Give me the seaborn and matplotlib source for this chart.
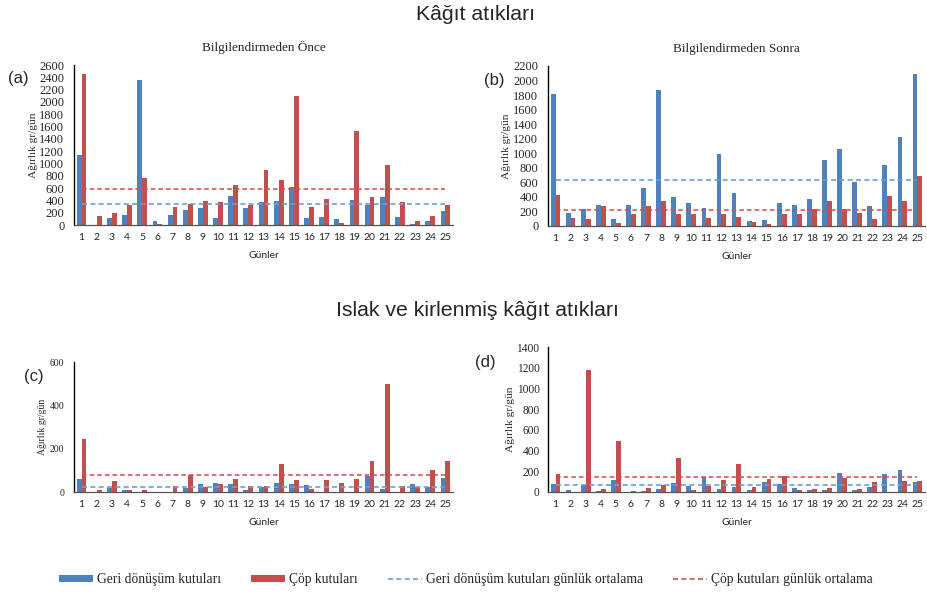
import numpy as np
import pandas as pd
import matplotlib.pyplot as plt
from matplotlib.patches import Patch
from matplotlib.lines import Line2D
import seaborn as sns

# ---- data (gr/gün) ----
gunler = [str(i) for i in range(1, 26)]
seri_adlari = ['Geri dönüşüm kutuları', 'Çöp kutuları']
ortalama_adlari = ['Geri dönüşüm kutuları günlük ortalama', 'Çöp kutuları günlük ortalama']

kagit_once_geri = [1130, 0, 120, 160, 2360, 70, 160, 240, 280, 120, 470, 270, 380,
                   390, 610, 120, 130, 90, 410, 320, 450, 130, 20, 60, 220]
kagit_once_cop = [2450, 140, 200, 320, 770, 20, 300, 340, 390, 370, 650, 330, 890,
                  730, 2090, 290, 430, 40, 1520, 460, 970, 380, 60, 140, 320]

kagit_sonra_geri = [1820, 180, 240, 290, 100, 290, 520, 1870, 400, 320, 250, 990, 450,
                    70, 80, 310, 290, 370, 910, 1060, 600, 270, 840, 1220, 2090]
kagit_sonra_cop = [430, 110, 90, 270, 40, 170, 270, 340, 170, 170, 110, 160, 130,
                   60, 30, 170, 170, 240, 350, 230, 180, 100, 410, 350, 690]

islak_once_geri = [60, 0, 20, 10, 0, 0, 0, 18, 38, 42, 38, 10, 25,
                   40, 38, 33, 0, 0, 0, 75, 15, 0, 35, 25, 65]
islak_once_cop = [245, 10, 50, 8, 10, 0, 30, 80, 25, 35, 58, 30, 30,
                  130, 55, 15, 55, 40, 62, 145, 500, 30, 25, 100, 145]

islak_sonra_geri = [75, 15, 70, 10, 120, 0, 10, 30, 85, 55, 145, 25, 50,
                    15, 100, 80, 35, 15, 15, 185, 15, 45, 170, 210, 100]
islak_sonra_cop = [175, 0, 1175, 30, 490, 10, 35, 70, 325, 20, 55, 120, 270,
                   45, 130, 155, 15, 25, 35, 135, 25, 95, 0, 105, 110]

mavi = '#4F81BD'
kirmizi = '#C0504D'
mavi_cizgi = '#6A9FDC'
kirmizi_cizgi = '#D9474C'

W, H = 928, 593
fig = plt.figure(figsize=(W / 100, H / 100), dpi=100)

serif = ['Liberation Serif', 'DejaVu Serif']
sans = ['Liberation Sans', 'DejaVu Sans']
xfont = ['Lato', 'DejaVu Sans']


def px_rect(l, t, r, b):
    return [l / W, 1 - b / H, (r - l) / W, (b - t) / H]


def panel(rect, geri, cop, ymax, harf, harf_xy, ylabel_x, yfs=9, ylfs=8.2,
          ypad=7, alt_baslik=None):
    ax = fig.add_axes(px_rect(*rect))
    df = pd.DataFrame({
        'Gün': gunler * 2,
        'Ağırlık': geri + cop,
        'Tür': [seri_adlari[0]] * len(gunler) + [seri_adlari[1]] * len(gunler),
    })
    sns.barplot(data=df, x='Gün', y='Ağırlık', hue='Tür', hue_order=seri_adlari,
                palette=[mavi, kirmizi], saturation=1, width=0.64, gap=0,
                linewidth=0, edgecolor='none', legend=False, ax=ax)
    pos = np.arange(len(gunler))
    ax.plot(pos, np.full(len(pos), np.mean(geri)), ls=(0, (3, 2)), color=mavi_cizgi, lw=1.2)
    ax.plot(pos, np.full(len(pos), np.mean(cop)), ls=(0, (3, 2)), color=kirmizi_cizgi, lw=1.1)

    ax.set_xlim(-0.5, len(gunler) - 0.5)
    ax.set_ylim(0, ymax)
    ax.set_yticks(np.arange(0, ymax + 1, 200))
    sns.despine(ax=ax)
    ax.spines['left'].set_color('black')
    ax.spines['left'].set_linewidth(1.0)
    ax.spines['bottom'].set_color('#555555')
    ax.spines['bottom'].set_linewidth(0.9)
    ax.tick_params(length=0)
    ax.tick_params(axis='x', pad=6)
    ax.tick_params(axis='y', pad=ypad)
    for t in ax.get_yticklabels():
        t.set_fontfamily(serif)
        t.set_fontsize(yfs)
    for t in ax.get_xticklabels():
        t.set_fontfamily(xfont)
        t.set_fontsize(7.5)
    ax.set_xlabel('Günler', fontfamily=xfont, fontsize=7.5, labelpad=6)
    ax.set_ylabel('Ağırlık gr/gün', fontfamily=serif, fontsize=ylfs)
    l, r = rect[0], rect[2]
    ax.yaxis.set_label_coords((ylabel_x - l) / (r - l), 0.5)
    ax.grid(False)
    fig.text(harf_xy[0] / W, 1 - harf_xy[1] / H, harf, fontfamily=sans, fontsize=12,
             ha='left', va='center')
    if alt_baslik:
        ax.set_title(alt_baslik, fontfamily=serif, fontsize=9.5, pad=10)
    return ax


sns.set_style('white')

panel((74, 65, 453, 225), kagit_once_geri, kagit_once_cop, 2600, '(a)', (8, 79), 38,
      alt_baslik='Bilgilendirmeden Önce')
panel((548, 66, 925, 226), kagit_sonra_geri, kagit_sonra_cop, 2200, '(b)', (484, 80), 511,
      alt_baslik='Bilgilendirmeden Sonra')
panel((74, 362, 453, 492), islak_once_geri, islak_once_cop, 600, '(c)', (24, 377), 47,
      yfs=7, ylfs=7)
panel((548, 347, 925, 492), islak_sonra_geri, islak_sonra_cop, 1400, '(d)', (475, 362), 515,
      yfs=8.3, ypad=6)

fig.text(476 / W, 1 - 15 / H, 'Kâğıt atıkları', fontfamily=sans, fontsize=15.3,
         ha='center', va='center')
fig.text(477 / W, 1 - 310 / H, 'Islak ve kirlenmiş kâğıt atıkları', fontfamily=sans,
         fontsize=15.3, ha='center', va='center')

handles = [
    Patch(facecolor=mavi, edgecolor='none'),
    Patch(facecolor=kirmizi, edgecolor='none'),
    Line2D([], [], color=mavi_cizgi, ls=(0, (3, 2)), lw=1.2),
    Line2D([], [], color=kirmizi_cizgi, ls=(0, (3, 2)), lw=1.2),
]
fig.legend(handles, seri_adlari + ortalama_adlari, loc='center', ncol=4,
           bbox_to_anchor=(466 / W, 1 - 580 / H), frameon=False,
           prop={'family': serif, 'size': 9.8}, handlelength=2.5, handleheight=0.45,
           handletextpad=0.3, columnspacing=2.2)

fig.savefig('out.png', dpi=100)
